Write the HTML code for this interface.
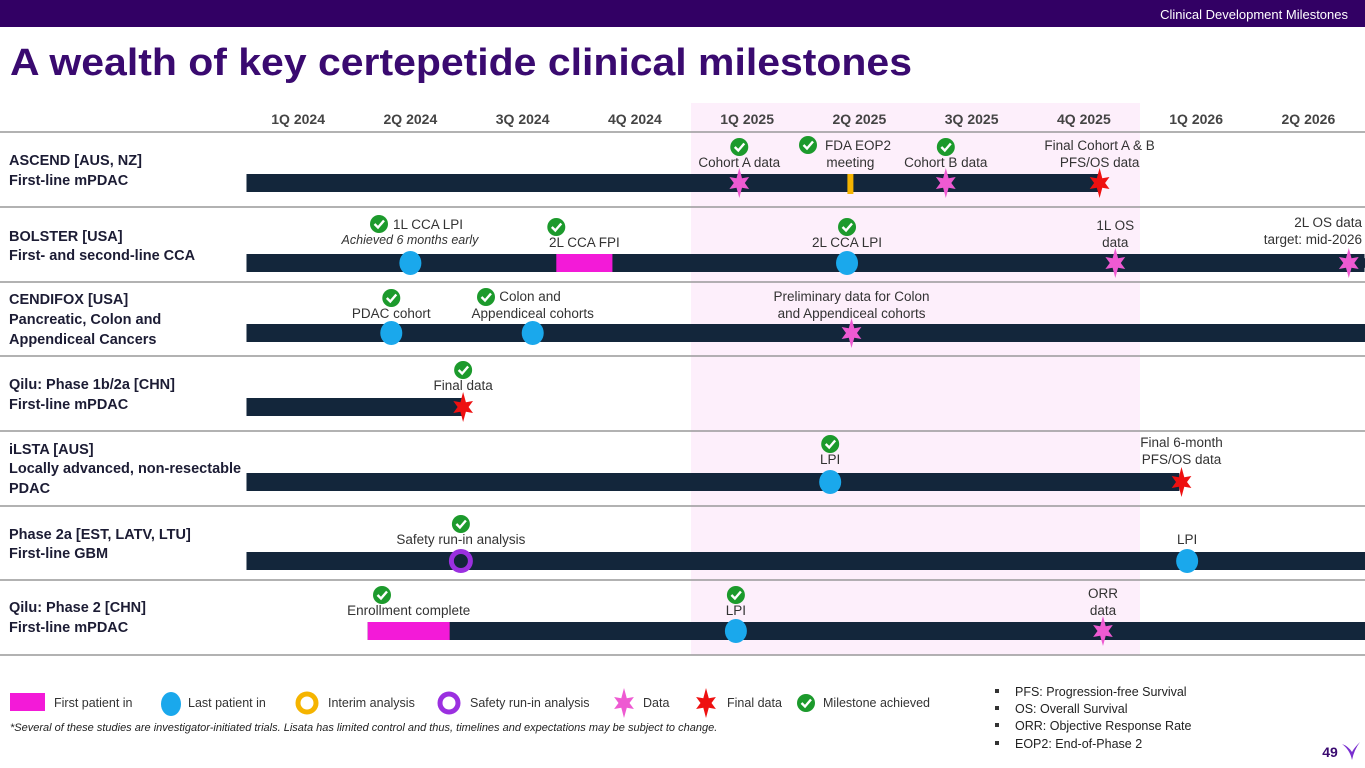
<!DOCTYPE html>
<html><head><meta charset="utf-8">
<style>
html,body{margin:0;padding:0;background:#fff;}
svg{display:block;font-family:"Liberation Sans Narrow","Liberation Sans",sans-serif;}
</style></head>
<body>
<svg id="chart" width="1365" height="768" viewBox="0 0 1365 768" xmlns="http://www.w3.org/2000/svg">
<rect x="0" y="0" width="1365" height="27" fill="#320064"/>
<text x="1348" y="19" text-anchor="end" font-size="13" fill="#fff">Clinical Development Milestones</text>
<text x="10" y="75" font-size="38" font-weight="bold" fill="#3a0a70" textLength="902" lengthAdjust="spacingAndGlyphs" font-family="Liberation Sans, sans-serif">A wealth of key certepetide clinical milestones</text>
<g id="plot"></g>
<g id="legend"></g>
<text x="10" y="731" font-size="11" font-style="italic" fill="#222">*Several of these studies are investigator-initiated trials. Lisata has limited control and thus, timelines and expectations may be subject to change.</text>
<g font-size="12.5" fill="#222">
<rect x="995" y="689" width="4" height="4" fill="#333"/><text x="1015" y="696">PFS: Progression-free Survival</text>
<rect x="995" y="706" width="4" height="4" fill="#333"/><text x="1015" y="713">OS: Overall Survival</text>
<rect x="995" y="723" width="4" height="4" fill="#333"/><text x="1015" y="730">ORR: Objective Response Rate</text>
<rect x="995" y="741" width="4" height="4" fill="#333"/><text x="1015" y="748">EOP2: End-of-Phase 2</text>
</g>
<text x="1330" y="757" font-size="14" font-weight="bold" fill="#3a0a70" text-anchor="middle">49</text>
<path d="M1342 744 Q1350 750 1352 760 Q1354 750 1360 742 Q1354 748 1352 752 Q1348 746 1342 744Z" fill="#7a2fd0"/>
</svg>
<script>
// ---- data ----
const quarters = ["1Q 2024","2Q 2024","3Q 2024","4Q 2024","1Q 2025","2Q 2025","3Q 2025","4Q 2025","1Q 2026","2Q 2026"];
const highlightRange = [4, 8];
const trialNames = [["ASCEND [AUS, NZ]","First-line mPDAC"],["BOLSTER [USA]","First- and second-line CCA"],["CENDIFOX [USA]","Pancreatic, Colon and","Appendiceal Cancers"],["Qilu: Phase 1b/2a [CHN]","First-line mPDAC"],["iLSTA [AUS]","Locally advanced, non-resectable","PDAC"],["Phase 2a [EST, LATV, LTU]","First-line GBM"],["Qilu: Phase 2 [CHN]","First-line mPDAC"]];
const barStart = [0.04, 0.04, 0.04, 0.04, 0.04, 0.04, 1.12];
const barEnd   = [7.64, 10.0, 10.2, 1.96, 8.35, 10.2, 10.2];
const markerRows  = [0,0,0,0, 1,1,1,1,1, 2,2,2, 3, 4,4, 5,5, 6,6,6];
const markerTypes = ["data","eop","data","final", "lpi","fpi","lpi","data","data", "lpi","lpi","data", "final", "lpi","final", "safety","lpi", "fpi","lpi","data"];
const markerTimes = [4.43,5.42,6.27,7.64, 1.5,2.8,5.39,7.78,9.86, 1.33,2.59,5.43, 1.97, 5.24,8.37, 1.95,8.42, 1.12,4.4,7.67];
const markerEnd   = [0,0,0,0, 0,3.3,0,0,0, 0,0,0, 0, 0,0, 0,0, 1.85,0,0];
const markerDone  = [1,1,1,0, 1,1,1,0,0, 1,1,0, 1, 1,0, 1,0, 1,1,0];
const markerLabels = [["Cohort A data"],["FDA EOP2","meeting"],["Cohort B data"],["Final Cohort A & B","PFS/OS data"],
 ["1L CCA LPI"],["2L CCA FPI"],["2L CCA LPI"],["1L OS","data"],["2L OS data","target: mid-2026"],
 ["PDAC cohort"],["Colon and","Appendiceal cohorts"],["Preliminary data for Colon","and Appendiceal cohorts"],
 ["Final data"],["LPI"],["Final 6-month","PFS/OS data"],["Safety run-in analysis"],["LPI"],
 ["Enrollment complete"],["LPI"],["ORR","data"]];

// ---- layout ----
const NS="http://www.w3.org/2000/svg";
const plot=document.getElementById('plot');
const X0=242, QW=112.25;
const x=t=>X0+QW*t;
const rowTop=[132,207,282,356,431,506,580];
const barY=r=>rowTop[r]+(r===0?51:(r===1?56:(r===5?55:51)));
function mk(tag,attrs,parent){const e=document.createElementNS(NS,tag);for(const k in attrs)e.setAttribute(k,attrs[k]);(parent||plot).appendChild(e);return e;}
function txt(s,xx,yy,attrs,parent){const e=mk('text',Object.assign({x:xx,y:yy},attrs),parent);e.textContent=s;return e;}
function star(cx,cy,color,parent){let p=[];for(let i=0;i<12;i++){const a=-Math.PI/2+i*Math.PI/6;const r=i%2?5.5:(i%6===0?15:12);p.push((cx+r*Math.cos(a)*(i%2?1:0.95)).toFixed(1)+','+(cy+r*Math.sin(a)).toFixed(1));}return mk('polygon',{points:p.join(' '),fill:color},parent);}
function check(cx,cy,parent){const g=mk('g',{},parent);mk('circle',{cx:cx,cy:cy,r:9,fill:'#1c9a2c'},g);mk('path',{d:`M${cx-4.5} ${cy} L${cx-1} ${cy+3.5} L${cx+5} ${cy-3.5}`,stroke:'#fff','stroke-width':2.4,fill:'none'},g);return g;}

const band=mk('rect',{x:x(highlightRange[0]),y:103,width:x(highlightRange[1])-x(highlightRange[0]),height:552,fill:'#fdeffb'});


quarters.forEach((q,i)=>{const t=txt(q,x(i+0.5),124,{'text-anchor':'middle','font-size':14,'font-weight':'bold',fill:'#444'});

});
[132,207,282,356,431,506,580,655].forEach(y=>{const l=mk('line',{x1:0,x2:1365,y1:y,y2:y,stroke:'#999','stroke-width':1.5});

});
const labelY=[[165,185],[241,260],[304,324,344],[389,409],[454,473,493],[539,558],[612,632]];
trialNames.forEach((lines,r)=>{
 lines.forEach((s,j)=>{const t=txt(s,9,labelY[r][j],{'font-size':14.5,'font-weight':'bold',fill:'#1c1c34'});
 
 });
 const b=mk('rect',{x:x(barStart[r]),y:barY(r)-9,width:Math.min(x(barEnd[r]),1365)-x(barStart[r]),height:18,fill:'#13263b'});
 
 
});
const dm=mk('polygon',{points:`${x(10)-6},${barY(1)} ${x(10)},${barY(1)-5} ${x(10)+6},${barY(1)} ${x(10)},${barY(1)+5}`,fill:'#13263b'});



const rowOffset=[16,16,15,17,18,17,16];
markerTypes.forEach((tp,i)=>{
 const r=markerRows[i], cx=x(markerTimes[i]), cy=barY(r);
 const g=mk('g',{});
 
 
 if(tp==='data')star(cx,cy,'#ee5ad2',g);
 else if(tp==='final')star(cx,cy,'#ee1010',g);
 else if(tp==='lpi')mk('ellipse',{cx:cx,cy:cy,rx:11,ry:12,fill:'#1aa8ec'},g);
 else if(tp==='fpi')mk('rect',{x:cx,y:cy-9,width:x(markerEnd[i])-cx,height:18,fill:'#f31ad8'},g);
 else if(tp==='eop')mk('rect',{x:cx-3,y:cy-9,width:6,height:20,fill:'#f5b400'},g);
 else if(tp==='safety')mk('circle',{cx:cx,cy:cy,r:9.5,fill:'none',stroke:'#9b30e0','stroke-width':5},g);
 const lines=markerLabels[i];
 let lx = tp==='fpi' ? (cx+x(markerEnd[i]))/2 : cx;
 let anchor='middle';
 if(i===8){lx=1362;anchor='end';}
 let lastY = cy-rowOffset[r];
 if(i===0||i===2) lastY=cy-16;
 if(i===4) lastY=229;
 if(i===8) lastY=244;
 const special={1:858,4:428,10:530};
 lines.forEach((s,j)=>{
  const yy = lastY-(lines.length-1-j)*17;
  txt(s,(special[i]!==undefined&&j===0)?special[i]:lx, yy,{'text-anchor':anchor,'font-size':13.5,fill:'#333'},g);
 });
 if(markerDone[i]){
  let chx=cx, chy=lastY-(lines.length)*17-3;
  if(i===1){chx=808;chy=lastY-17-5;}
  if(i===4){chx=379;chy=lastY-5;}
  if(i===10){chx=486;chy=lastY-17-4;}
  if(i===17){chx=382;}
  check(chx,chy,g);
 }
});
const it=txt('Achieved 6 months early',410,244,{'text-anchor':'middle','font-size':12.5,'font-style':'italic',fill:'#333'});



const lg=document.getElementById('legend');
mk('rect',{x:10,y:693,width:35,height:18,fill:'#f31ad8'},lg);txt('First patient in',54,707,{'font-size':12.5,fill:'#333'},lg);
mk('ellipse',{cx:171,cy:704,rx:10,ry:12,fill:'#1aa8ec'},lg);txt('Last patient in',188,707,{'font-size':12.5,fill:'#333'},lg);
mk('circle',{cx:307,cy:703,r:9,fill:'none',stroke:'#f5b400','stroke-width':5},lg);txt('Interim analysis',328,707,{'font-size':12.5,fill:'#333'},lg);
mk('circle',{cx:449,cy:703,r:9,fill:'none',stroke:'#9b30e0','stroke-width':5},lg);txt('Safety run-in analysis',470,707,{'font-size':12.5,fill:'#333'},lg);
star(624,703,'#ee5ad2',lg);txt('Data',643,707,{'font-size':12.5,fill:'#333'},lg);
star(706,703,'#ee1010',lg);txt('Final data',727,707,{'font-size':12.5,fill:'#333'},lg);
check(806,703,lg);txt('Milestone achieved',823,707,{'font-size':12.5,fill:'#333'},lg);
</script>
</body></html>
